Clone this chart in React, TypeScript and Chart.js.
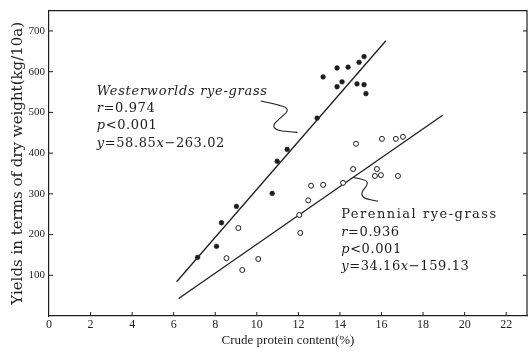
import React, { useEffect, useRef } from "react";
import { Chart, registerables } from "chart.js";

Chart.register(...registerables);

// ---- data ----
const X_TICKS = [0, 2, 4, 6, 8, 10, 12, 14, 16, 18, 20, 22];
const Y_TICKS = [100, 200, 300, 400, 500, 600, 700];

// Westerworlds rye-grass (filled dots): crude protein (%), yield (kg/10a)
const WW_X = [7.15, 8.06, 8.3, 9.02, 10.74, 10.98, 11.46, 12.9, 13.19, 13.86, 14.1, 13.86, 14.39, 14.92, 15.16, 14.82, 15.16, 15.25];
const WW_Y = [144, 171, 229, 269, 301, 380, 409, 486, 587, 563, 575, 609, 611, 623, 637, 570, 568, 546];

// Perennial rye-grass (open circles)
const PR_X = [8.54, 9.11, 9.3, 10.07, 12.09, 12.04, 12.47, 12.61, 13.19, 14.15, 14.63, 14.77, 15.78, 15.68, 15.97, 16.02, 16.69, 17.03, 16.79];
const PR_Y = [142, 216, 113, 140, 204, 248, 284, 320, 322, 327, 361, 423, 361, 344, 346, 435, 435, 440, 344];

// regression line ends as drawn
const WW_LINE_X = [6.14, 16.21];
const WW_LINE_Y = [84, 676];
const PR_LINE_X = [6.24, 18.94];
const PR_LINE_Y = [43, 493];

// connector curves (data units)
const WW_CONN_X = [10.19, 11.33, 11.53, 11.1, 10.76, 10.95, 11.48, 11.96];
const WW_CONN_Y = [528, 516, 504, 485, 468, 456, 453, 451];
const PR_CONN_X = [14.63, 15.26, 15.35, 15.02, 15.11, 15.83];
const PR_CONN_Y = [340, 335, 323, 304, 289, 282];

type Run = { t: string; i?: boolean };
const WW_LABEL: Run[][] = [
  [{ t: "Westerworlds rye-grass", i: true }],
  [{ t: "r", i: true }, { t: "=0.974" }],
  [{ t: "p", i: true }, { t: "<0.001" }],
  [{ t: "y", i: true }, { t: "=58.85" }, { t: "x", i: true }, { t: "\u2212263.02" }],
];
const PR_LABEL: Run[][] = [
  [{ t: "Perennial rye-grass" }],
  [{ t: "r", i: true }, { t: "=0.936" }],
  [{ t: "p", i: true }, { t: "<0.001" }],
  [{ t: "y", i: true }, { t: "=34.16" }, { t: "x", i: true }, { t: "\u2212159.13" }],
];
const WW_LABEL_POS = { x: 2.3, y: 552 };
const PR_LABEL_POS = { x: 14.06, y: 248 };

const zip = (xs: number[], ys: number[]) => xs.map((x, i) => ({ x, y: ys[i] }));

const FONT = "'Liberation Serif', 'DejaVu Serif', serif";
const WIDE = "'DejaVu Serif', serif";
const INK = "#1e1e1e";

const overlay = {
  id: "overlay",
  afterDraw(chart: any) {
    const { ctx, chartArea: a, scales } = chart;
    const xs = scales.x;
    const ys = scales.y;
    ctx.save();
    ctx.strokeStyle = INK;
    ctx.lineWidth = 1.2;
    // top and right border
    ctx.beginPath();
    ctx.moveTo(a.left, a.top);
    ctx.lineTo(a.right, a.top);
    ctx.lineTo(a.right, a.bottom);
    ctx.stroke();
    // inward ticks
    ctx.lineWidth = 1;
    ctx.beginPath();
    Y_TICKS.forEach((v) => {
      const py = ys.getPixelForValue(v);
      ctx.moveTo(a.left, py);
      ctx.lineTo(a.left + 4, py);
      ctx.moveTo(a.right, py);
      ctx.lineTo(a.right - 4, py);
    });
    X_TICKS.forEach((v) => {
      if (v === 0) return;
      const px = xs.getPixelForValue(v);
      ctx.moveTo(px, a.bottom);
      ctx.lineTo(px, a.bottom - 4);
    });
    ctx.stroke();

    // connector curves
    const curve = (cx: number[], cy: number[]) => {
      const p = cx.map((x, i) => [xs.getPixelForValue(x), ys.getPixelForValue(cy[i])]);
      ctx.beginPath();
      ctx.moveTo(p[0][0], p[0][1]);
      for (let i = 1; i < p.length - 1; i++) {
        const mx = (p[i][0] + p[i + 1][0]) / 2;
        const my = (p[i][1] + p[i + 1][1]) / 2;
        ctx.quadraticCurveTo(p[i][0], p[i][1], mx, my);
      }
      const last = p[p.length - 1];
      ctx.lineTo(last[0], last[1]);
      ctx.stroke();
    };
    ctx.lineWidth = 1.1;
    curve(WW_CONN_X, WW_CONN_Y);
    curve(PR_CONN_X, PR_CONN_Y);

    // labels
    const drawBlock = (lines: Run[][], pos: { x: number; y: number }, firstSpacing: number) => {
      const x0 = xs.getPixelForValue(pos.x);
      let y0 = ys.getPixelForValue(pos.y);
      ctx.fillStyle = INK;
      ctx.textBaseline = "middle";
      ctx.textAlign = "left";
      lines.forEach((runs, li) => {
        let x = x0;
        (ctx as any).letterSpacing = (li === 0 ? firstSpacing : 0.6) + "px";
        runs.forEach((r) => {
          ctx.font = `${r.i ? "italic " : ""}13px ${WIDE}`;
          ctx.fillText(r.t, x, y0);
          x += ctx.measureText(r.t).width;
        });
        y0 += 17.3;
      });
      (ctx as any).letterSpacing = "0px";
    };
    drawBlock(WW_LABEL, WW_LABEL_POS, 0.7);
    drawBlock(PR_LABEL, PR_LABEL_POS, 1.5);
    ctx.restore();
  },
};

export default function App() {
  const ref = useRef<HTMLCanvasElement>(null);
  useEffect(() => {
    document.body.style.margin = "0";
    const canvas = ref.current!;
    const chart = new Chart(canvas, {
      type: "scatter",
      data: {
        datasets: [
          {
            label: "Westerworlds rye-grass",
            data: zip(WW_X, WW_Y),
            pointRadius: 2.4,
            pointBackgroundColor: INK,
            pointBorderColor: INK,
            pointBorderWidth: 0.5,
          },
          {
            label: "Perennial rye-grass",
            data: zip(PR_X, PR_Y),
            pointRadius: 2.5,
            pointBackgroundColor: "#ffffff",
            pointBorderColor: INK,
            pointBorderWidth: 1,
          },
          {
            label: "WW fit",
            data: zip(WW_LINE_X, WW_LINE_Y),
            showLine: true,
            pointRadius: 0,
            borderColor: INK,
            borderWidth: 1.3,
          },
          {
            label: "PR fit",
            data: zip(PR_LINE_X, PR_LINE_Y),
            showLine: true,
            pointRadius: 0,
            borderColor: INK,
            borderWidth: 1.3,
          },
        ],
      },
      options: {
        animation: false,
        responsive: false,
        devicePixelRatio: 1,
        layout: { padding: { top: 5, right: 2, left: 0, bottom: 0 } },
        plugins: { legend: { display: false }, tooltip: { enabled: false } },
        scales: {
          x: {
            type: "linear",
            min: 0,
            max: 23,
            afterBuildTicks: (s: any) => {
              s.ticks = X_TICKS.map((v) => ({ value: v }));
            },
            afterFit: (s: any) => {
              s.height = 37;
            },
            ticks: {
              padding: 2,
              color: INK,
              font: { family: FONT, size: 12 },
              maxRotation: 0,
              autoSkip: false,
            },
            grid: { display: true, drawOnChartArea: false, drawTicks: false, color: "rgba(0,0,0,0)" },
            border: { display: true, color: INK, width: 1.2 },
            title: {
              display: true,
              text: "Crude protein content(%)",
              color: INK,
              font: { family: FONT, size: 13 },
              padding: { top: 0, bottom: 5 },
            },
          },
          y: {
            type: "linear",
            min: 0,
            max: 750,
            afterBuildTicks: (s: any) => {
              s.ticks = Y_TICKS.map((v) => ({ value: v }));
            },
            afterFit: (s: any) => {
              s.width = 49;
            },
            ticks: {
              padding: 4,
              color: INK,
              font: { family: FONT, size: 11 },
              autoSkip: false,
            },
            grid: { display: true, drawOnChartArea: false, drawTicks: false, color: "rgba(0,0,0,0)" },
            border: { display: true, color: INK, width: 1.2 },
            title: {
              display: true,
              text: "Yields in terms of dry weight(kg/10a)",
              color: INK,
              font: { family: WIDE, size: 15 },
              padding: { top: 9, bottom: 0 },
            },
          },
        },
      },
      plugins: [overlay],
    });
    return () => chart.destroy();
  }, []);
  return (
    <div style={{ position: "relative", width: 532, height: 353 }}>
      <canvas ref={ref} width={532} height={353} />
    </div>
  );
}
